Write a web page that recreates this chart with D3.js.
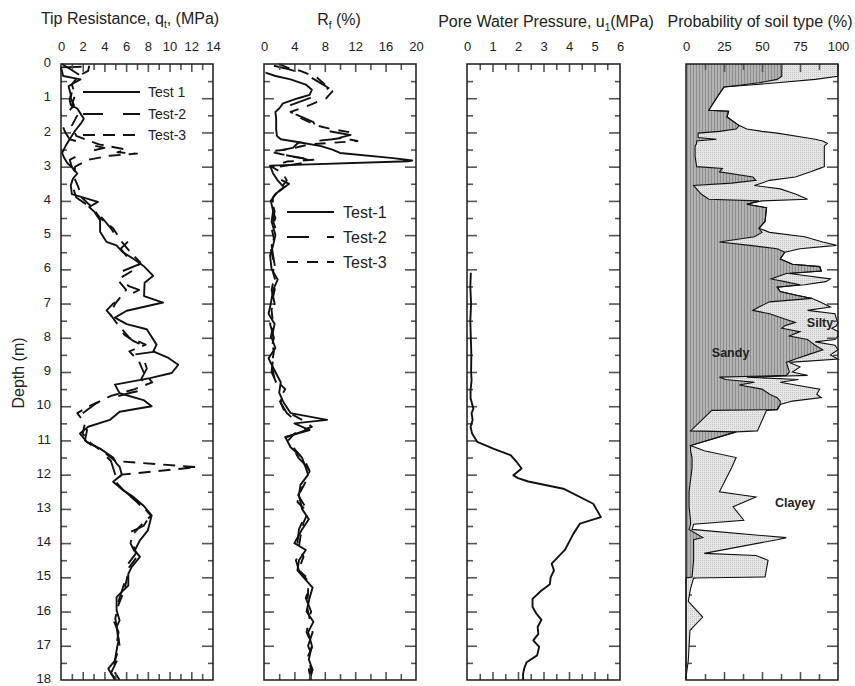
<!DOCTYPE html>
<html><head><meta charset="utf-8">
<script src="https://cdn.jsdelivr.net/npm/d3@7"></script>
<style>body{margin:0;background:#fff} text{font-family:"Liberation Sans",Arial,sans-serif}</style>
</head><body><svg id="c" width="855" height="686"></svg>
<script>
// ---------- DATA ----------
const depthTicks = d3.range(0, 19, 1);
const qtTickLabels = [0,2,4,6,8,10,12,14];
const rfTickLabels = [0,4,8,12,16,20];
const u1TickLabels = [0,1,2,3,4,5,6];
const soilTickLabels = [0,25,50,75,100];
const testNames = ["Test 1","Test-2","Test-3"];
const testNamesRf = ["Test-1","Test-2","Test-3"];

// [depth (m), qt (MPa)]
const qtTest1 = [[0.08,1.9],[0.1,0],[0.35,0.2],[0.45,1.8],[0.55,1.2],[0.65,0.7],[0.9,0.9],[1.05,0.8],[1.2,0.9],[1.3,1.5],[1.45,1.8],[1.6,2.1],[1.75,1.8],[1.95,1.3],[2.15,0.9],[2.35,0.5],[2.6,0.1],[2.75,0.3],[2.9,0.6],[3.05,1.1],[3.2,1.5],[3.35,1.1],[3.55,0.9],[3.8,1.0],[3.9,2.0],[4.03,3.4],[4.18,2.6],[4.33,3.1],[4.57,3.6],[4.9,3.6],[5.2,4.2],[5.3,5.1],[5.5,5.7],[5.7,6.7],[5.9,7.6],[6.19,8.5],[6.39,7.7],[6.78,7.65],[6.97,9.4],[7.21,6.05],[7.41,4.97],[7.6,6.05],[7.75,7.9],[8.05,8.5],[8.2,8.8],[8.4,8.5],[8.59,9.9],[8.79,10.8],[9.03,10.2],[9.18,8.2],[9.37,4.97],[9.62,5.4],[9.82,7.6],[10.0,8.35],[10.16,5.4],[10.4,4.5],[10.6,2.5],[10.8,1.75],[11.05,2.4],[11.24,3.6],[11.5,4.8],[11.67,5.1],[11.77,5.4],[12.0,5.6],[12.21,4.8],[12.46,5.74],[12.65,6.66],[12.9,7.58],[13.19,8.35],[13.63,8.0],[13.92,7.27],[14.21,6.8],[14.4,7.27],[14.7,6.5],[14.9,6.2],[15.24,6.2],[15.38,5.74],[15.58,5.12],[15.97,5.12],[16.26,5.4],[16.45,5.12],[16.84,5.3],[17.13,5.12],[17.43,4.97],[17.67,4.36],[18.0,4.97]];
const qtTest2 = [[0.0,0.1],[0.3,1.6],[0.5,1.0],[0.8,1.0],[1.0,0.9],[1.2,1.2],[1.35,0.8],[1.5,0.5],[1.7,0.6],[1.85,0.2],[2.0,0.4],[2.2,0.8],[2.35,2.5],[2.45,4.0],[2.6,2.0],[2.8,0.8],[3.0,1.0],[3.3,1.6],[3.6,1.1],[3.9,1.4],[4.2,2.8],[4.5,3.8],[4.8,4.6],[5.0,5.0],[5.15,6.3],[5.4,5.5],[5.6,6.0],[5.8,7.6],[6.1,5.3],[6.3,5.5],[6.5,6.3],[6.6,7.2],[7.0,4.8],[7.2,4.2],[7.5,5.0],[7.9,5.8],[8.1,6.7],[8.4,8.8],[8.5,6.5],[8.7,7.7],[8.9,7.9],[9.2,7.4],[9.5,8.0],[9.6,6.5],[9.8,4.2],[9.9,3.3],[10.3,1.6],[10.5,2.0],[10.7,2.4],[11.0,2.2],[11.3,3.6],[11.6,4.6],[12.0,5.0],[12.4,5.6],[12.8,7.0],[13.2,8.2],[13.5,7.6],[13.7,6.2],[13.8,6.7],[14.0,6.6],[14.3,6.9],[14.6,6.2],[15.0,6.0],[15.4,5.6],[15.8,5.2],[16.3,4.9],[16.6,5.3],[17.0,5.1],[17.4,5.2],[17.8,4.6],[18.0,5.1]];
const qtTest3 = [[0.05,2.6],[0.2,2.5],[0.35,1.6],[0.6,1.0],[0.9,1.3],[1.2,1.0],[1.5,1.5],[1.8,1.0],[2.1,1.4],[2.35,3.5],[2.5,6.0],[2.58,5.2],[2.62,7.0],[2.68,4.5],[2.8,2.5],[3.0,1.3],[3.3,1.2],[3.6,1.6],[3.9,1.9],[4.2,2.9],[4.5,3.6],[4.8,4.8],[5.0,5.2],[5.2,5.6],[5.5,6.4],[5.8,7.3],[6.0,6.8],[6.3,5.2],[6.6,6.0],[7.0,5.0],[7.3,4.5],[7.6,5.2],[8.0,6.3],[8.2,7.8],[8.4,6.3],[8.7,7.2],[9.0,7.6],[9.3,8.4],[9.5,6.8],[9.7,4.6],[10.0,2.6],[10.2,1.5],[10.5,2.2],[10.8,2.0],[11.1,2.8],[11.4,4.2],[11.6,5.0],[11.78,12.5],[12.0,5.6],[12.2,5.0],[12.5,5.9],[12.9,7.4],[13.2,8.3],[13.5,7.3],[13.75,6.6],[14.0,6.4],[14.4,7.0],[14.7,6.3],[15.0,6.1],[15.4,5.8],[15.8,5.3],[16.2,5.0],[16.6,5.2],[17.0,5.4],[17.4,5.0],[17.7,4.8],[18.0,5.4]];

// [depth (m), Rf (%)]
const rfTest1 = [[0.25,0.2],[0.35,1.5],[0.45,3.5],[0.6,5.5],[0.75,6.3],[0.9,6.0],[1.0,4.5],[1.15,2.5],[1.3,2.0],[1.4,1.5],[1.6,1.6],[1.9,1.6],[2.1,1.7],[2.2,2.2],[2.3,5.0],[2.4,7.5],[2.5,9.0],[2.6,10.0],[2.75,17.0],[2.82,19.5],[2.84,19.0],[2.97,0.8],[3.2,1.2],[3.4,1.8],[3.6,2.6],[3.8,1.5],[4.0,0.9],[4.3,1.2],[4.6,1.0],[5.0,1.5],[5.3,1.2],[5.6,0.8],[6.0,1.0],[6.3,1.8],[6.6,1.2],[7.0,0.9],[7.3,0.6],[7.6,1.4],[8.0,1.0],[8.3,1.5],[8.6,0.6],[9.0,1.5],[9.3,2.2],[9.6,2.0],[9.9,2.6],[10.2,3.5],[10.4,8.3],[10.5,4.0],[10.7,6.0],[10.9,2.8],[11.2,3.5],[11.5,5.0],[11.8,5.5],[12.0,5.8],[12.3,4.8],[12.6,4.6],[13.0,5.0],[13.3,5.9],[13.6,5.0],[14.0,4.0],[14.2,5.5],[14.5,4.6],[14.8,4.4],[15.0,5.2],[15.3,6.4],[15.6,6.0],[16.0,5.6],[16.3,6.5],[16.6,5.8],[17.0,6.3],[17.4,5.9],[17.7,6.4],[18.0,6.0]];
const rfTest2 = [[0.05,1.3],[0.15,3.2],[0.3,5.5],[0.5,7.0],[0.7,8.5],[0.85,7.5],[1.0,6.0],[1.2,3.5],[1.35,2.8],[1.5,4.5],[1.7,6.5],[1.9,7.0],[2.0,9.5],[2.1,12.0],[2.2,9.0],[2.3,4.5],[2.45,3.8],[2.55,1.5],[2.65,2.5],[2.75,5.0],[2.85,6.5],[3.0,2.0],[3.3,1.5],[3.5,3.3],[3.8,1.5],[4.0,1.0],[4.3,1.4],[4.6,1.2],[5.0,1.8],[5.3,1.0],[5.6,1.2],[6.0,1.5],[6.3,1.3],[6.6,1.0],[7.0,1.4],[7.3,1.2],[7.6,0.8],[8.0,1.3],[8.3,1.0],[8.6,1.2],[9.0,1.0],[9.3,1.6],[9.6,2.4],[9.9,2.2],[10.2,3.0],[10.5,4.5],[10.7,5.5],[10.9,3.0],[11.2,3.8],[11.5,4.5],[11.8,5.8],[12.0,6.0],[12.3,5.2],[12.6,4.5],[13.0,5.6],[13.3,5.2],[13.6,4.6],[14.0,4.4],[14.2,5.0],[14.5,4.2],[14.8,4.6],[15.0,5.6],[15.3,6.0],[15.6,5.5],[16.0,6.2],[16.3,5.8],[16.6,6.4],[17.0,5.8],[17.4,6.5],[17.7,5.9],[18.0,6.2]];
const rfTest3 = [[0.0,2.0],[0.1,3.0],[0.2,4.8],[0.4,7.0],[0.6,8.0],[0.8,9.0],[1.0,8.2],[1.2,6.0],[1.4,3.5],[1.6,5.0],[1.8,7.0],[1.9,8.8],[2.0,11.5],[2.05,11.8],[2.15,10.0],[2.25,12.3],[2.35,6.0],[2.5,3.0],[2.55,0.8],[2.6,1.6],[2.7,3.5],[2.8,6.5],[2.85,3.0],[3.0,1.0],[3.2,2.5],[3.4,3.0],[3.6,2.3],[3.9,1.2],[4.2,1.0],[4.5,1.5],[4.8,1.0],[5.1,1.3],[5.4,0.9],[5.8,1.3],[6.1,1.2],[6.4,1.6],[6.8,1.2],[7.2,1.0],[7.6,1.2],[8.0,0.9],[8.4,1.3],[8.8,1.0],[9.2,1.4],[9.5,2.8],[9.8,2.0],[10.1,2.6],[10.4,5.0],[10.6,6.3],[10.8,4.0],[11.0,3.2],[11.3,4.2],[11.6,5.4],[11.9,6.0],[12.2,5.5],[12.5,4.8],[12.8,4.4],[13.1,5.8],[13.4,5.2],[13.8,4.8],[14.1,4.6],[14.4,5.2],[14.8,4.5],[15.1,5.8],[15.5,5.8],[15.8,5.6],[16.2,6.0],[16.6,5.6],[17.0,6.4],[17.3,5.8],[17.7,6.2],[18.0,6.0]];

// [depth (m), u1 (MPa)]
const u1Test = [[6.1,0.15],[6.5,0.13],[7.0,0.16],[7.5,0.13],[8.0,0.15],[8.5,0.17],[9.0,0.16],[9.24,0.18],[9.53,0.14],[9.77,0.14],[10.07,0.25],[10.2,0.18],[10.4,0.22],[10.6,0.14],[10.8,0.2],[11.04,0.4],[11.24,1.03],[11.43,1.71],[11.63,1.95],[11.82,2.14],[12.02,1.82],[12.1,2.0],[12.2,2.4],[12.41,3.78],[12.85,4.95],[13.24,5.25],[13.43,4.43],[13.73,4.17],[14.2,3.84],[14.6,3.32],[14.8,3.41],[15.0,3.28],[15.2,3.25],[15.4,2.9],[15.63,2.57],[15.87,2.57],[16.07,2.73],[16.24,2.92],[16.45,2.77],[16.65,2.8],[16.84,2.6],[17.03,2.83],[17.28,2.75],[17.48,2.34],[17.67,2.24],[17.82,2.2],[18.0,2.2]];

// soil type probability (%), clayey = remainder
const soilDepth = [0,0.36,0.45,0.55,0.62,0.67,1.0,1.35,1.38,1.55,1.8,1.9,1.97,2.02,2.15,2.2,2.25,2.32,2.4,2.7,3.0,3.05,3.15,3.3,3.4,3.48,3.55,3.65,3.8,3.95,4.0,4.1,4.2,4.6,4.8,4.92,5.05,5.2,5.3,5.4,5.5,5.7,5.85,5.92,6.05,6.12,6.28,6.36,6.45,6.52,6.65,6.75,6.85,6.95,7.1,7.2,7.3,7.45,7.55,7.65,7.72,7.82,7.95,8.05,8.12,8.22,8.35,8.5,8.62,8.72,8.85,9.0,9.1,9.15,9.22,9.3,9.38,9.5,9.65,9.75,9.85,9.95,10.1,10.12,10.72,10.75,11.15,11.3,11.5,11.8,12.5,12.65,12.94,13.33,13.45,13.6,13.84,13.9,14.3,14.36,14.5,14.99,15.02,15.33,15.7,16.16,16.55,17.43,17.92,18];
const sandyPct = [63,63,60,48,35,25,20,15,28,27,35,33,22,8,8,20,7,7,6,6,7,24,22,44,46,30,5,7,10,15,48,40,53,52,48,50,45,22,42,60,65,62,70,88,89,66,56,65,75,60,62,72,83,55,48,44,55,65,72,65,63,75,68,80,82,85,90,80,72,66,67,68,66,22,26,45,35,50,55,60,62,62,60,17,3,33,3,3,4,4,2,2,2,3,3,2,11,5,5,5,5,4,0,0,0,0,0,0,0,0];
const siltyPct = [37,37,25,12,5,0,0,0,0,0,0,7,28,52,70,65,83,86,85,85,84,64,60,28,9,20,40,55,62,65,2,0,0,0,0,5,33,68,57,15,0,0,0,0,0,2,39,27,3,0,0,0,0,33,47,36,43,34,28,34,33,25,32,18,3,13,10,15,28,2,8,2,14,18,48,17,37,38,31,29,8,0,0,36,44,0,0,9,29,26,20,44,29,35,2,2,55,55,7,41,49,48,5,3,1.5,11,2.6,1.5,0,0];
const soilNames = ["Sandy","Silty","Clayey"];

// ---------- DRAWING ----------
const svg = d3.select('#c');
const FONT = '"Liberation Sans", Arial, sans-serif';
const TOP = 64, BOT = 680;
const y = d3.scaleLinear().domain([0,18]).range([TOP,BOT]);

const defs = svg.append('defs');
const ps = defs.append('pattern').attr('id','sandPat').attr('width',3).attr('height',3).attr('patternUnits','userSpaceOnUse');
ps.append('rect').attr('width',3).attr('height',3).attr('fill','#b2b2b2');
ps.append('rect').attr('width',1).attr('height',3).attr('fill','#8e8e8e');
const pl = defs.append('pattern').attr('id','siltPat').attr('width',2).attr('height',2).attr('patternUnits','userSpaceOnUse');
pl.append('rect').attr('width',2).attr('height',2).attr('fill','#e6e6e6');
pl.append('rect').attr('width',1).attr('height',1).attr('fill','#c6c6c6');

const panels = [
  {x: d3.scaleLinear().domain([0,14]).range([61,213]), labels: qtTickLabels, step: 1},
  {x: d3.scaleLinear().domain([0,20]).range([264,416]), labels: rfTickLabels, step: 2},
  {x: d3.scaleLinear().domain([0,6]).range([467,620]), labels: u1TickLabels, step: 0.5},
  {x: d3.scaleLinear().domain([0,100]).range([686,838]), labels: soilTickLabels, step: 12.5}
];

function styleTicks(g){
  g.select('.domain').remove();
  g.selectAll('.tick line').attr('stroke','#555').attr('stroke-width',1.6);
}
function styleText(g, size){
  g.attr('font-family', FONT).attr('font-size', size).attr('color','#222');
  g.select('.domain').remove();
}

const majorDepth = d3.range(0,18.01,1);
const minorDepth = d3.range(0.5,18,1);

function drawLeftTicks(p){
  const x0 = p.x.range()[0];
  svg.append('g').attr('transform',`translate(${x0},0)`)
    .call(d3.axisRight(y).tickValues(majorDepth.slice(1,-1)).tickSize(10).tickFormat('')).call(styleTicks);
  svg.append('g').attr('transform',`translate(${x0},0)`)
    .call(d3.axisRight(y).tickValues(minorDepth).tickSize(6).tickFormat('')).call(styleTicks);
}
function drawOtherTicks(p){
  const [x0,x1] = p.x.range();
  const dom = p.x.domain();
  const all = d3.range(dom[0]+p.step, dom[1]-1e-9, p.step);
  const major = all.filter(v => p.labels.includes(v));
  const minor = all.filter(v => !p.labels.includes(v));
  svg.append('g').attr('transform',`translate(${x1},0)`)
    .call(d3.axisLeft(y).tickValues(majorDepth.slice(1,-1)).tickSize(11).tickFormat('')).call(styleTicks);
  svg.append('g').attr('transform',`translate(${x1},0)`)
    .call(d3.axisLeft(y).tickValues(minorDepth).tickSize(5).tickFormat('')).call(styleTicks);
  [[TOP, d3.axisBottom],[BOT, d3.axisTop]].forEach(([yy, ax]) => {
    svg.append('g').attr('transform',`translate(0,${yy})`)
      .call(ax(p.x).tickValues(major).tickSize(8).tickFormat('')).call(styleTicks);
    svg.append('g').attr('transform',`translate(0,${yy})`)
      .call(ax(p.x).tickValues(minor).tickSize(6).tickFormat('')).call(styleTicks);
  });
  svg.append('g').attr('transform',`translate(0,${TOP})`)
    .call(d3.axisTop(p.x).tickValues(p.labels).tickSize(0).tickPadding(13).tickFormat(d3.format('d')))
    .call(g => styleText(g, 13));
  svg.append('rect').attr('x',x0).attr('y',TOP).attr('width',x1-x0).attr('height',BOT-TOP)
    .attr('fill','none').attr('stroke','#1a1a1a').attr('stroke-width',1.5);
}

panels.forEach(drawLeftTicks);

// Panel 4 soil fills
{
  const p = panels[3];
  const rows = soilDepth.map((d,i) => ({depth:d, Sandy:sandyPct[i], Silty:siltyPct[i], Clayey:100-sandyPct[i]-siltyPct[i]}));
  const stack = d3.stack().keys(soilNames.slice(0,2))(rows);
  const area = d3.area().y(d => y(d.data.depth)).x0(d => p.x(d[0])).x1(d => p.x(d[1]));
  const fills = ['url(#sandPat)','url(#siltPat)'];
  const g = svg.append('g');
  stack.forEach((s,i) => g.append('path').datum(s).attr('d', area).attr('fill', fills[i]));
  const edge = d3.line().y(d => y(d.data.depth)).x(d => p.x(d[1]));
  stack.forEach(s => g.append('path').datum(s).attr('d', edge).attr('fill','none').attr('stroke','#111').attr('stroke-width',1.1));
  const lab = [["Sandy",17,8.55],["Silty",79.5,7.68],["Clayey",58.5,12.95]];
  lab.forEach(([t,px,dp]) => svg.append('text').attr('x',p.x(px)).attr('y',y(dp)).attr('font-family',FONT)
    .attr('font-size',12.5).attr('font-weight','bold').attr('fill','#222').text(t));
}

// Lines
const dashes = [null, '20,20', '12,8'];
const dashesRf = [null, '22,18', '11,9'];
function drawLines(p, series, dash){
  const line = d3.line().x(d => p.x(d[1])).y(d => y(d[0]));
  series.forEach((s,i) => svg.append('path').datum(s).attr('d', line).attr('fill','none')
    .attr('stroke','#111').attr('stroke-width',1.9).attr('stroke-linejoin','round')
    .attr('stroke-dasharray', dash[i]));
}
drawLines(panels[0], [qtTest1, qtTest2, qtTest3], dashes);
drawLines(panels[1], [rfTest1, rfTest2, rfTest3], dashesRf);
drawLines(panels[2], [u1Test], [null]);

panels.forEach(drawOtherTicks);

// Depth labels
svg.append('g').attr('transform',`translate(${panels[0].x.range()[0]},0)`)
  .call(d3.axisLeft(y).tickValues(depthTicks).tickSize(0).tickPadding(10))
  .call(g => styleText(g, 13))
  .call(g => g.selectAll('text').attr('dy','0.2em'));
svg.append('text').attr('transform','translate(24,373) rotate(-90)').attr('text-anchor','middle')
  .attr('font-family',FONT).attr('font-size',16).attr('fill','#222').text('Depth (m)');

// Titles
function title(x, yy, parts){
  const t = svg.append('text').attr('x',x).attr('y',yy).attr('text-anchor','middle')
    .attr('font-family',FONT).attr('font-size',16).attr('fill','#222');
  let prevSub = false;
  parts.forEach(([s,sub]) => {
    const ts = t.append('tspan').text(s);
    if (sub) ts.attr('font-size',10).attr('dy',4);
    else if (prevSub) ts.attr('dy',-4);
    prevSub = !!sub;
  });
}
title(130, 24, [['Tip Resistance, q'],['t',1],[', (MPa)']]);
title(339, 25, [['R'],['f',1],[' (%)']]);
title(546, 27, [['Pore Water Pressure, u'],['1',1],['(MPa)']]);
title(760, 27, [['Probability of soil type (%)']]);

// Legends
function legend(x0, x1, ys, names, dash, size, tx){
  names.forEach((n,i) => {
    svg.append('line').attr('x1',x0).attr('x2',x1).attr('y1',ys[i]).attr('y2',ys[i])
      .attr('stroke','#111').attr('stroke-width',1.9).attr('stroke-dasharray',dash[i]);
    svg.append('text').attr('x',tx).attr('y',ys[i]).attr('dy','0.36em').attr('font-family',FONT)
      .attr('font-size',size).attr('fill','#222').text(n);
  });
}
legend(83, 140, [92,114,135], testNames, dashes, 14, 148);
legend(287, 334, [212,237,262], testNamesRf, dashesRf, 16, 343);
</script></body></html>
